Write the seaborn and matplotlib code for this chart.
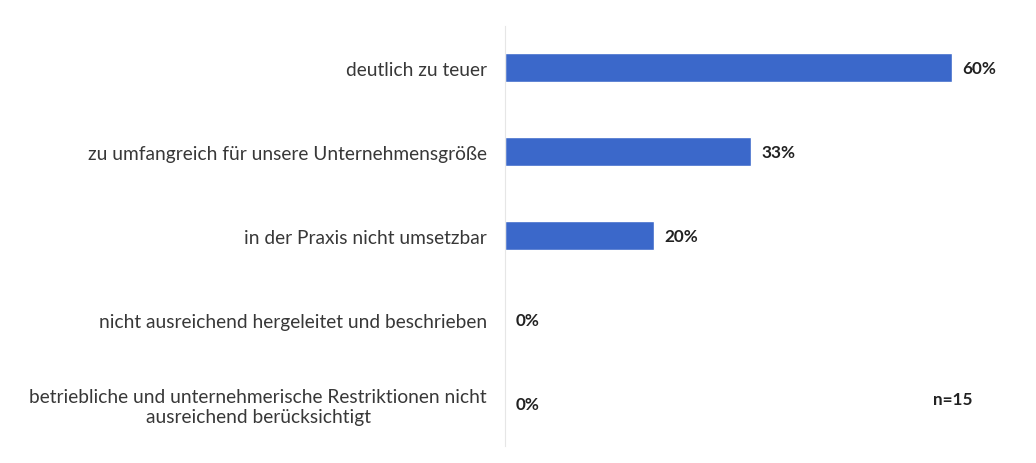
import matplotlib
matplotlib.use("Agg")
import matplotlib.pyplot as plt
import seaborn as sns
import pandas as pd

categories = [
    "deutlich zu teuer",
    "zu umfangreich für unsere Unternehmensgröße",
    "in der Praxis nicht umsetzbar",
    "nicht ausreichend hergeleitet und beschrieben",
    "betriebliche und unternehmerische Restriktionen nicht\nausreichend berücksichtigt",
]
values = [60, 33, 20, 0, 0]
value_labels = ["60%", "33%", "20%", "0%", "0%"]
sample_note = "n=15"

sns.set_theme(style="white")
plt.rcParams["font.family"] = ["Lato", "DejaVu Sans"]

df = pd.DataFrame({"Grund": categories, "Anteil": values})

fig = plt.figure(figsize=(10.36, 4.64), dpi=100)
ax = fig.add_axes([0.4875, 0.0377, 0.489, 0.905])

sns.barplot(data=df, y="Grund", x="Anteil", orient="h", color="#3b68ca",
            width=0.345, saturation=1, ax=ax)

ax.set_xlim(0, 68)
ax.set_xlabel("")
ax.set_ylabel("")
ax.set_xticks([])
ax.tick_params(axis="y", length=0, pad=13, labelsize=13.8, labelcolor="#383838")
for lbl in ax.get_yticklabels():
    lbl.set_horizontalalignment("right")
    lbl.set_multialignment("center")

for s in ["top", "right", "bottom"]:
    ax.spines[s].set_visible(False)
ax.spines["left"].set_color("#e6e6e6")
ax.spines["left"].set_linewidth(0.8)

for i, (v, t) in enumerate(zip(values, value_labels)):
    ax.text(v + 1.4, i, t, va="center", ha="left", fontsize=12.3,
            fontweight="bold", color="#222222")

ax.text(0.845, 0.11, sample_note, transform=ax.transAxes, ha="left", va="center",
        fontsize=12.3, fontweight="bold", color="#222222")

fig.savefig("out.png", dpi=100, facecolor="white")
